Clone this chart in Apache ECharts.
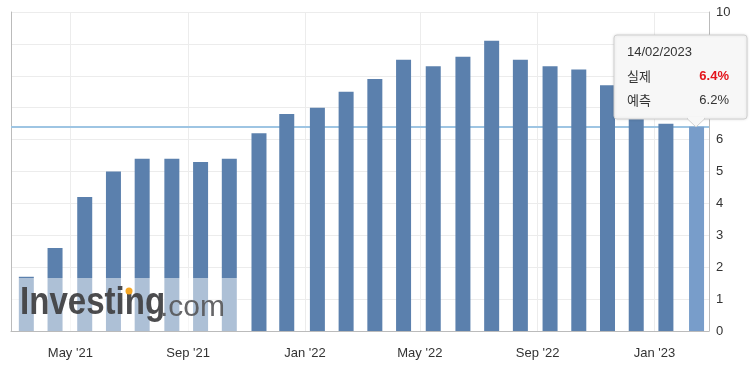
<!DOCTYPE html>
<html>
<head>
<meta charset="utf-8">
<script src="https://cdn.jsdelivr.net/npm/echarts@6/dist/echarts.min.js"></script>
<style>
  html, body { margin: 0; padding: 0; background: #fff; }
  #chart { width: 752px; height: 376px; }
</style>
</head>
<body>
<div id="chart"></div>
<script>
// plotted date of each CPI print (as placed on the chart) and the actual y/y value
var releaseDates = ['2021-03-16', '2021-04-15', '2021-05-16', '2021-06-15', '2021-07-15', '2021-08-15',
    '2021-09-14', '2021-10-14', '2021-11-14', '2021-12-13', '2022-01-14', '2022-02-13',
    '2022-03-15', '2022-04-14', '2022-05-15', '2022-06-15', '2022-07-15', '2022-08-14',
    '2022-09-14', '2022-10-14', '2022-11-13', '2022-12-13', '2023-01-13', '2023-02-14'];
var actualValues = [1.7, 2.6, 4.2, 5.0, 5.4, 5.4, 5.3, 5.4, 6.2, 6.8, 7.0, 7.5,
    7.9, 8.5, 8.3, 8.6, 9.1, 8.5, 8.3, 8.2, 7.7, 7.1, 6.5, 6.4];
var latestForecast = 6.2;
var tickDates = ['2021-05-01', '2021-09-01', '2022-01-01', '2022-05-01', '2022-09-01', '2023-01-01'];

var monthNames = ['Jan', 'Feb', 'Mar', 'Apr', 'May', 'Jun', 'Jul', 'Aug', 'Sep', 'Oct', 'Nov', 'Dec'];
var font = '"Liberation Sans", Arial, sans-serif';
var krFont = '"Noto Sans CJK KR", "Liberation Sans", sans-serif';

function ts(d) { return Date.UTC(+d.slice(0, 4), +d.slice(5, 7) - 1, +d.slice(8, 10)); }

var lastIdx = actualValues.length - 1;
var barData = actualValues.map(function (v, i) {
    var item = { value: [ts(releaseDates[i]), v] };
    if (i === lastIdx) {
        item.itemStyle = { color: '#789dca' };
    }
    return item;
});
var tickTs = tickDates.map(ts);

function fmtTip(d) {
    var p = d.split('-');
    return p[2] + '/' + p[1] + '/' + p[0];
}

var chart = echarts.init(document.getElementById('chart'));
var option = {
    animation: false,
    grid: { left: 11, right: 43, top: 12, bottom: 45, containLabel: false },
    xAxis: {
        type: 'value',
        min: ts('2021-02-28'),
        max: ts('2023-02-27'),
        axisLine: { show: true, onZero: false, lineStyle: { color: '#bbb' } },
        axisTick: { show: false },
        splitLine: { show: false },
        axisLabel: {
            customValues: tickTs,
            color: '#333',
            fontFamily: font,
            fontSize: 13,
            margin: 16,
            formatter: function (val) {
                var d = new Date(val);
                return monthNames[d.getUTCMonth()] + " '" + String(d.getUTCFullYear()).slice(2);
            }
        }
    },
    yAxis: [{
        type: 'value',
        position: 'right',
        min: 0,
        max: 10,
        interval: 1,
        axisLine: { show: true, lineStyle: { color: '#bbb' } },
        axisTick: { show: false },
        splitLine: { lineStyle: { color: '#ececec' } },
        axisLabel: { color: '#333', fontFamily: font, fontSize: 13, margin: 7 }
    }, {
        type: 'value',
        position: 'left',
        min: 0,
        max: 10,
        interval: 1,
        axisLine: { show: true, lineStyle: { color: '#bbb', width: 1 } },
        axisTick: { show: false },
        splitLine: { show: false },
        axisLabel: { show: false }
    }],
    series: [{
        type: 'bar',
        barWidth: 15,
        itemStyle: { color: '#5b80ad' },
        data: barData,
        z: 2,
        markLine: {
            silent: true,
            symbol: 'none',
            label: { show: false },
            data: tickTs.map(function (t) {
                return { xAxis: t, lineStyle: { color: '#ececec', width: 1, type: 'solid' } };
            }).concat([{ yAxis: actualValues[lastIdx], lineStyle: { color: '#9ec5e3', width: 2, type: 'solid' } }]),
            z: 1
        }
    }],
    graphic: [
        // watermark
        { type: 'rect', shape: { x: 12, y: 278, width: 226, height: 53 }, style: { fill: 'rgba(255,255,255,0.5)' }, z: 10 },
        {
            type: 'text', x: 20, y: 285, scaleX: 0.87, z: 11,
            style: { text: 'Investing', font: 'bold 38px ' + font, fill: 'rgba(66,66,68,0.95)' }
        },
        {
            type: 'text', x: 160, y: 293, z: 11,
            style: { text: '.com', font: '30px ' + font, fill: 'rgba(85,85,88,0.9)' }
        },
        { type: 'circle', shape: { cx: 129, cy: 291, r: 3.5 }, style: { fill: '#f5a623' }, z: 12 },
        // tooltip box
        { type: 'rect', z: 100, shape: { x: 614, y: 35, width: 133, height: 84, r: 3 },
          style: { fill: '#f7f7f7', stroke: '#d0d0d0', lineWidth: 1,
                   shadowBlur: 3, shadowColor: 'rgba(0,0,0,0.12)' } },
        { type: 'polygon', z: 101, shape: { points: [[687, 118.5], [696, 127], [705, 118.5]] },
          style: { fill: '#f7f7f7', stroke: '#d0d0d0', lineWidth: 1 } },
        { type: 'rect', z: 102, shape: { x: 688, y: 117, width: 16, height: 2 }, style: { fill: '#f7f7f7' } },
        { type: 'text', z: 103, x: 627, y: 52,
          style: { text: fmtTip(releaseDates[lastIdx]), font: '13px ' + font, fill: '#333', verticalAlign: 'middle' } },
        { type: 'text', z: 103, x: 627, y: 76,
          style: { text: '실제', font: '13px ' + krFont, fill: '#333', verticalAlign: 'middle' } },
        { type: 'text', z: 103, x: 729, y: 76,
          style: { text: actualValues[lastIdx].toFixed(1) + '%', font: 'bold 13px ' + font, fill: '#e3141b',
                   align: 'right', verticalAlign: 'middle' } },
        { type: 'text', z: 103, x: 627, y: 100,
          style: { text: '예측', font: '13px ' + krFont, fill: '#333', verticalAlign: 'middle' } },
        { type: 'text', z: 103, x: 729, y: 100,
          style: { text: latestForecast.toFixed(1) + '%', font: '13px ' + font, fill: '#333',
                   align: 'right', verticalAlign: 'middle' } }
    ]
};
chart.setOption(option);
</script>
</body>
</html>
